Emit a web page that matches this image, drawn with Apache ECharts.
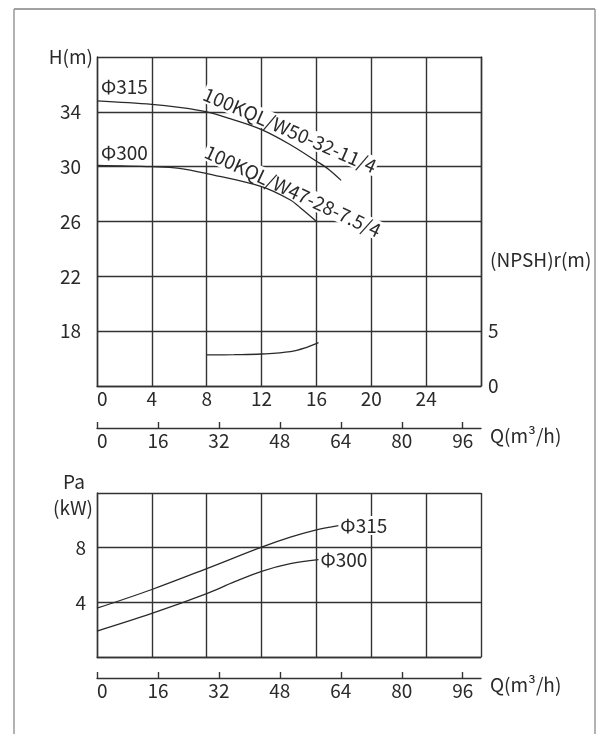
<!DOCTYPE html>
<html><head><meta charset="utf-8">
<script src="https://cdn.jsdelivr.net/npm/echarts@6/dist/echarts.min.js"></script>
<style>html,body{margin:0;padding:0;background:#fff}#c{width:597px;height:734px}</style>
</head><body><div id="c"></div>
<script>
// ---- tick labels ----
const qLsTickLabels = [0, 4, 8, 12, 16, 20, 24];
const qM3TickLabels = [0, 16, 32, 48, 64, 80, 96];
const hTickLabels = [18, 22, 26, 30, 34];
const npshTickLabels = [0, 5];
const pTickLabels = [4, 8];

// ---- series values (Q in L/s) ----
const h315Q = [0, 4, 6, 8, 9.7, 12, 14.1, 16, 16.9, 17.8];
const h315H = [34.8, 34.55, 34.33, 34.0, 33.5, 32.7, 31.6, 30.4, 29.8, 29.0];
const h300Q = [0, 4, 6, 8, 12, 14.1, 15, 16];
const h300H = [30.1, 30.0, 29.88, 29.5, 28.55, 27.57, 26.85, 26.0];
const npshQ = [8, 10, 12, 14.1, 15.3, 16.15];
const npshV = [2.83, 2.86, 2.92, 3.13, 3.53, 3.95];
const p315Q = [0, 4, 8, 12, 14.1, 16, 17.6];
const p315P = [3.57, 4.94, 6.47, 8.04, 8.77, 9.31, 9.62];
const p300Q = [0, 4, 8, 10, 12, 14.1, 16.15];
const p300P = [1.9, 3.19, 4.64, 5.49, 6.27, 6.83, 7.12];

const pair = (xs, ys) => xs.map((x, i) => [x, ys[i]]);
const FF = '"Noto Sans CJK SC", "Noto Sans", sans-serif';
const C = '#2a2a2a';
const GL = {color: '#333', width: 1.4};
const FS = 19;
const lbl = (extra) => Object.assign({color: C, fontSize: FS, fontFamily: FF}, extra);
const only = (arr) => (v) => arr.includes(Math.round(v * 1000) / 1000) ? String(v) : '';

const lineSeries = (data, xi, yi, endTxt) => ({
  type: 'line', xAxisIndex: xi, yAxisIndex: yi, data: data, smooth: 0.35,
  showSymbol: false, symbol: 'none', lineStyle: {color: C, width: 1.3}, z: 3,
  endLabel: endTxt ? {show: true, formatter: endTxt, color: C, fontSize: FS, fontFamily: FF,
    distance: 1, backgroundColor: '#fff', padding: [0, 1]} : {show: false}
});

const txt = (text, x, y, align, extra) => Object.assign({
  type: 'text', x: x, y: y, z: 1,
  style: {text: text, fill: C, font: FS + 'px ' + FF, align: align || 'left', verticalAlign: 'middle'}
}, extra || {});

const chart = echarts.init(document.getElementById('c'), null, {renderer: 'canvas'});
chart.setOption({
  animation: false,
  backgroundColor: '#fff',
  grid: [
    {left: 97, top: 57, width: 384, height: 329},
    {left: 97, top: 427, width: 384, height: 1},
    {left: 97, top: 493, width: 384, height: 164},
    {left: 97, top: 677, width: 384, height: 1}
  ],
  xAxis: [
    {gridIndex: 0, type: 'value', min: 0, max: 28, interval: 4,
      axisLine: {show: true, lineStyle: GL}, axisTick: {show: false},
      axisLabel: lbl({margin: 3, formatter: only(qLsTickLabels), alignMinLabel: 'left'}),
      splitLine: {show: true, lineStyle: GL}},
    {gridIndex: 1, type: 'value', min: 0, max: 100.8, interval: 16,
      axisLine: {show: true, lineStyle: GL},
      axisTick: {show: true, inside: true, length: 6, lineStyle: GL, customValues: qM3TickLabels},
      axisLabel: lbl({margin: 3, formatter: only(qM3TickLabels), customValues: qM3TickLabels, alignMinLabel: 'left'}),
      splitLine: {show: false}},
    {gridIndex: 2, type: 'value', min: 0, max: 28, interval: 4,
      axisLine: {show: true, lineStyle: GL}, axisTick: {show: false}, axisLabel: {show: false},
      splitLine: {show: true, lineStyle: GL}},
    {gridIndex: 3, type: 'value', min: 0, max: 100.8, interval: 16,
      axisLine: {show: true, lineStyle: GL},
      axisTick: {show: true, inside: true, length: 6, lineStyle: GL, customValues: qM3TickLabels},
      axisLabel: lbl({margin: 3, formatter: only(qM3TickLabels), customValues: qM3TickLabels, alignMinLabel: 'left'}),
      splitLine: {show: false}}
  ],
  yAxis: [
    {gridIndex: 0, type: 'value', min: 14, max: 38, interval: 2,
      axisLine: {show: true, lineStyle: GL}, axisTick: {show: false},
      axisLabel: lbl({margin: 16, formatter: only(hTickLabels)}),
      splitLine: {show: false}},
    {gridIndex: 0, type: 'value', position: 'right', min: 0, max: 30, interval: 5,
      axisLine: {show: true, lineStyle: GL}, axisTick: {show: false},
      axisLabel: lbl({margin: 7, formatter: only(npshTickLabels)}),
      splitLine: {show: true, lineStyle: GL}},
    {gridIndex: 1, type: 'value', show: false, min: 0, max: 1},
    {gridIndex: 2, type: 'value', min: 0, max: 12, interval: 4,
      axisLine: {show: true, lineStyle: GL}, axisTick: {show: false},
      axisLabel: lbl({margin: 11, formatter: only(pTickLabels)}),
      splitLine: {show: true, lineStyle: GL}},
    {gridIndex: 3, type: 'value', show: false, min: 0, max: 1}
  ],
  series: [
    lineSeries(pair(h315Q, h315H), 0, 0),
    lineSeries(pair(h300Q, h300H), 0, 0),
    lineSeries(pair(npshQ, npshV), 0, 1),
    lineSeries(pair(p315Q, p315P), 2, 3, 'Φ315'),
    lineSeries(pair(p300Q, p300P), 2, 3, 'Φ300')
  ],
  graphic: [
    {type: 'line', z: 5, shape: {x1: 14, y1: 9, x2: 595, y2: 9}, style: {stroke: '#444', lineWidth: 1.2}},
    {type: 'line', z: 5, shape: {x1: 14, y1: 9, x2: 14, y2: 740}, style: {stroke: '#999', lineWidth: 1.5}},
    {type: 'line', z: 5, shape: {x1: 595, y1: 9, x2: 595, y2: 740}, style: {stroke: '#999', lineWidth: 1.5}},
    txt('H(m)', 93, 57, 'right'),
    txt('(NPSH)r(m)', 490, 260, 'left'),
    txt('Q(m³/h)', 490, 436, 'left'),
    txt('Q(m³/h)', 490, 685, 'left'),
    txt('Pa', 74, 482, 'center'),
    txt('(kW)', 93, 508, 'right'),
    txt('Φ315', 101, 87, 'left'),
    txt('Φ300', 101, 153, 'left'),
    {type: 'text', x: 290, y: 130, z: 1, rotation: -23.5 * Math.PI / 180,
      style: {text: '100KQL/W50-32-11/4', fill: C, font: FS + 'px ' + FF, align: 'center', verticalAlign: 'middle',
        backgroundColor: '#fff', padding: [0, 1]}},
    {type: 'text', x: 293, y: 191, z: 1, rotation: -25 * Math.PI / 180,
      style: {text: '100KQL/W47-28-7.5/4', fill: C, font: FS + 'px ' + FF, align: 'center', verticalAlign: 'middle',
        backgroundColor: '#fff', padding: [0, 1]}}
  ]
});
</script></body></html>
